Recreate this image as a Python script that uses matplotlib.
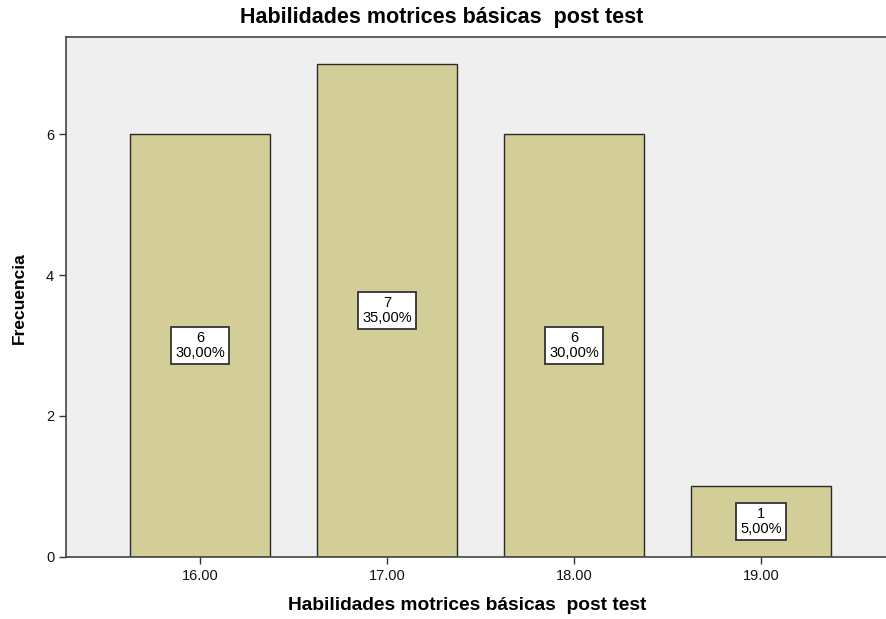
import matplotlib.pyplot as plt

categorias = ["16.00", "17.00", "18.00", "19.00"]
frecuencias = [6, 7, 6, 1]
porcentajes = ["30,00%", "35,00%", "30,00%", "5,00%"]

plt.rcParams['font.family'] = ['Liberation Sans', 'DejaVu Sans']

fig = plt.figure(figsize=(8.87, 6.19), dpi=100)
ax = fig.add_axes([0.0744, 0.1002, 0.9256, 0.840])
ax.set_facecolor('#efefef')

x = range(len(categorias))
ax.bar(x, frecuencias, width=0.75, color='#d3ce97', edgecolor='#2a2a2a', linewidth=1.0)

for i, (f, p) in enumerate(zip(frecuencias, porcentajes)):
    ax.text(i, f / 2, f"{f}\n{p}", ha='center', va='center', fontsize=10.5,
            linespacing=1.05,
            bbox=dict(boxstyle='square,pad=0.3', facecolor='white',
                      edgecolor='#333333', linewidth=1.3))

ax.set_xlim(-0.7166, 3.674)
ax.set_ylim(0, 7.376)
ax.set_xticks(list(x))
ax.set_xticklabels(categorias)
ax.set_yticks([0, 2, 4, 6])
ax.tick_params(axis='both', direction='out', length=5, width=1, colors='#333333',
               labelsize=10.5, labelcolor='#111111')

ax.spines['right'].set_visible(False)
for s in ['left', 'bottom', 'top']:
    ax.spines[s].set_color('#444444')
    ax.spines[s].set_linewidth(1.2)

fig.text(442 / 887, 1 - 18 / 619, "Habilidades motrices básicas  post test",
         ha='center', va='center', fontsize=15.5, fontweight='bold')
fig.text(467 / 887, 1 - 606 / 619, "Habilidades motrices básicas  post test",
         ha='center', va='center', fontsize=13.8, fontweight='bold')
fig.text(19 / 887, 1 - 298 / 619, "Frecuencia", rotation=90,
         ha='center', va='center', fontsize=12.5, fontweight='bold')

fig.savefig("out.png", dpi=100)
